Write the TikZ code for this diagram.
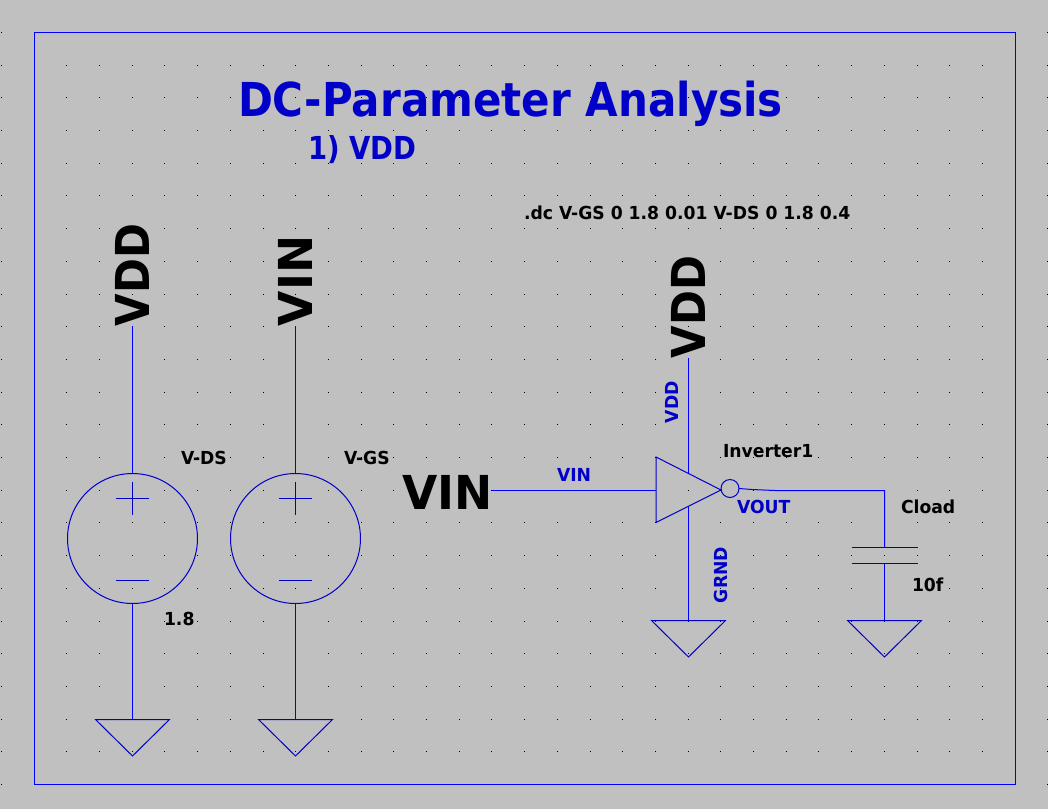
\documentclass[tikz,border=0pt]{standalone}
\usepackage{fontspec}
\setmainfont{DejaVu Sans}[FakeStretch=0.96]
\newfontfamily\headfont{DejaVu Sans}[FakeStretch=0.9]
\newfontfamily\subfont{DejaVu Sans}[FakeStretch=0.87]
\newfontfamily\vinfont{DejaVu Sans}[FakeStretch=0.975]
\usepackage{xcolor}
\usetikzlibrary{positioning,calc}
\definecolor{bgray}{RGB}{192,192,192}
\definecolor{wireblue}{RGB}{0,0,255}
\definecolor{symblue}{RGB}{0,0,200}
\tikzset{
    wire/.style={draw=wireblue, line width=0.57pt},
    symline/.style={draw=symblue, line width=0.57pt},
    txt/.style={inner sep=0pt, outer sep=0pt, font=\bfseries\fontsize{10.2pt}{12pt}\selectfont, anchor=base west},
    bluetxt/.style={txt, text=symblue},
    hugetxt/.style={txt, font=\headfont\bfseries\fontsize{26.6pt}{30pt}\selectfont},
    hugevin/.style={txt, font=\vinfont\bfseries\fontsize{26.6pt}{30pt}\selectfont},
    source/.style={circle, symline, minimum size=2.6cm, inner sep=0pt, outer sep=0pt},
    gnd/.pic={\draw[symline] (-37,0) -- (37,0) -- (0,36.5) -- cycle;},
    vsrc/.pic={
        \draw[symline] (-16.5,-40) -- (16.5,-40) (0,-57) -- (0,-23.5);
        \draw[symline] (-16.5,42) -- (16.5,42);
    }
}
\begin{document}
\begin{tikzpicture}[x=0.02cm, y=-0.02cm]
    \fill[bgray] (0,0) rectangle (1048,809);
    \useasboundingbox (0,0) rectangle (1048,809);

    % grid dots
    \foreach \i in {0,...,32}
        \foreach \j in {0,...,23}
            \fill[black] ({round(1+32.7*\i)},{round(32+32.7*\j)}) rectangle +(1,1);

    % sheet frame
    \draw[wireblue, line width=0.57pt] (34.5,32.5) rectangle (1015.5,784.5);

    % headings
    \node[bluetxt, font=\headfont\bfseries\fontsize{26.6pt}{30pt}\selectfont] (title) at (238,116) {DC-Parameter Analysis};
    \node[bluetxt, font=\subfont\bfseries\fontsize{18pt}{20pt}\selectfont] (subtitle) at (308,159) {1) VDD};
    \node[txt] (dccmd) at (524,219) {.dc V-GS 0 1.8 0.01 V-DS 0 1.8 0.4};

    % the two sources
    \node[source] (vds) at (132.5,538.5) {};
    \node[source] (vgs) at (295.5,538.5) {};
    \pic at (vds) {vsrc};
    \pic at (vgs) {vsrc};
    \node[txt] (vdsname) at (181,464) {V-DS};
    \node[txt] (vgsname) at (344,464) {V-GS};
    \node[txt] (vdsval) at (164,625) {1.8};

    \node[hugetxt, rotate=90] (vddflag) at (149,326) {VDD};
    \node[hugevin, rotate=90] (vinflag) at (312.5,326) {VIN};
    \coordinate (vddpin) at (132.5,326);
    \coordinate (vinpin) at (295.5,326);
    \coordinate (gndds) at (132.5,719.5);
    \coordinate (gndgs) at (295.5,719.5);
    \pic at (gndds) {gnd};
    \pic at (gndgs) {gnd};
    \draw[wire] (vddpin) -- (vds.north);
    \draw[wire] (vinpin) -- (vgs.north);
    \draw[wire] (vds.south) -- (gndds);
    \draw[wire] (vgs.south) -- (gndgs);

    % inverter
    \coordinate (invin) at (656,490.5);
    \coordinate (invtop) at (688.5,473);
    \coordinate (invbot) at (688.5,507);
    \draw[symline] (656,457) -- (721,490) -- (656,522.5) -- cycle;
    \node[circle, symline, minimum size=0.36cm, inner sep=0pt, outer sep=0pt] (bubble) at (730,488.5) {};

    \node[hugevin] (vinin) at (402,509.5) {VIN};
    \draw[wire] (vinin.east |- invin) -- (invin);
    \node[bluetxt] (vinlabel) at (557,481) {VIN};

    \node[hugetxt, rotate=90] (vddtop) at (705.5,358) {VDD};
    \coordinate (vddtoppin) at (688.5,358);
    \draw[wire] (vddtoppin) -- (invtop);
    \node[bluetxt, rotate=90] (vddlabel) at (678.5,423) {VDD};

    \coordinate (gndinv) at (688.5,620.5);
    \pic at (gndinv) {gnd};
    \draw[wire] (invbot) -- (gndinv);
    \node[bluetxt, rotate=90] (grndlabel) at (727,603) {GRND};

    \node[txt] (invname) at (723,457) {Inverter1};
    \node[bluetxt] (voutlabel) at (737,513) {VOUT};

    % load
    \coordinate (capnode) at (884.5,490.5);
    \coordinate (plateup) at (884.5,547.5);
    \coordinate (platedn) at (884.5,563.5);
    \coordinate (gndcap) at (884.5,620.5);
    \draw[wire] (bubble.east) -- (752,489.5) -- (775,490.5) -- (capnode) -- (plateup);
    \draw[symline] ($(plateup)+(-33,0)$) -- ($(plateup)+(33,0)$);
    \draw[symline] ($(platedn)+(-33,0)$) -- ($(platedn)+(33,0)$);
    \draw[wire] (platedn) -- (gndcap);
    \pic at (gndcap) {gnd};
    \node[txt] (capname) at (901,513) {Cload};
    \node[txt] (capval) at (912,591) {10f};
\end{tikzpicture}
\end{document}
